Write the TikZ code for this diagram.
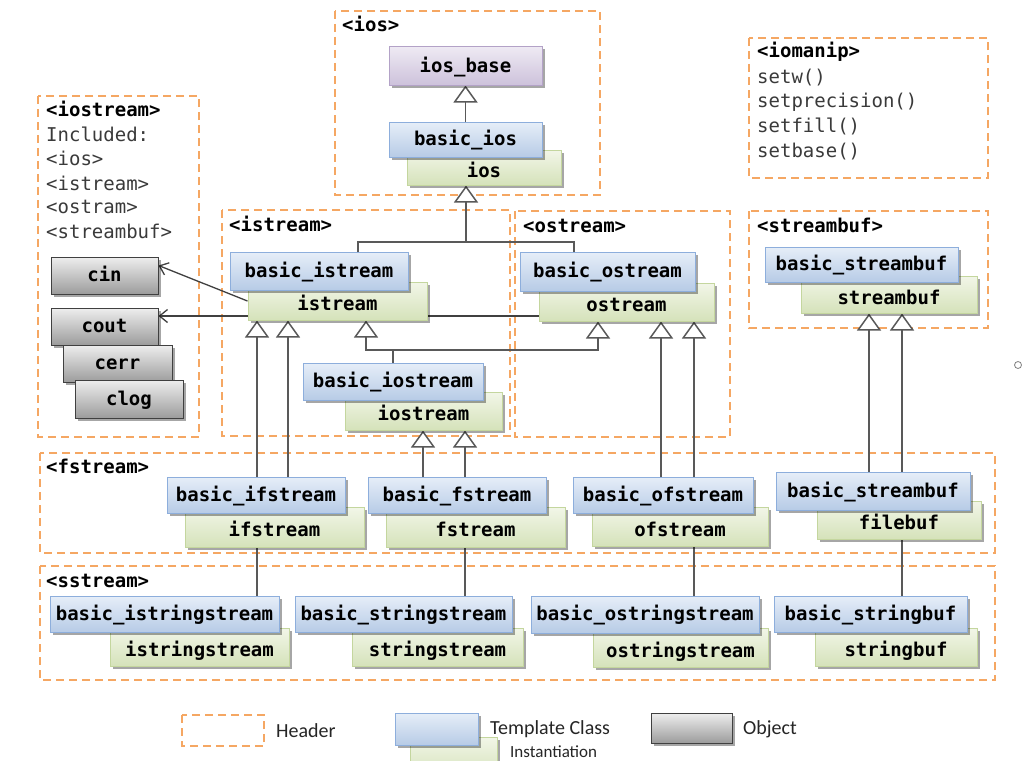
\documentclass[tikz,border=0pt]{standalone}
\usepackage{fontspec}
\setmainfont{Carlito}
\newfontfamily\codefont{DejaVu Sans Mono}
\usetikzlibrary{arrows.meta,shadows}
\pgfdeclarelayer{headers}
\pgfdeclarelayer{wires}
\pgfsetlayers{headers,wires,main}

\definecolor{hdr}{HTML}{F5A763}
\definecolor{itemgray}{HTML}{3A3A3A}
\definecolor{wire}{HTML}{595959}
\definecolor{tmplline}{HTML}{8DAEDC}
\definecolor{tmpltop}{HTML}{E6EEF8}
\definecolor{tmplbot}{HTML}{B7CBE6}
\definecolor{instline}{HTML}{C4D69E}
\definecolor{insttop}{HTML}{F2F6E8}
\definecolor{instbot}{HTML}{D5E2BA}
\definecolor{purpline}{HTML}{B3A2C7}
\definecolor{purptop}{HTML}{EEE9F3}
\definecolor{purpbot}{HTML}{CDC2DB}
\definecolor{objline}{HTML}{404040}
\definecolor{objtop}{HTML}{EEEEEE}
\definecolor{objbot}{HTML}{9C9C9C}

\tikzset{
  hdrbox/.style={draw=hdr, line width=2.2pt, dash pattern=on 8pt off 5pt},
  codetext/.style={font=\codefont\bfseries\fontsize{19}{22}\selectfont},
  hdrtitle/.style={codetext, anchor=west, inner sep=0pt, text height=11pt, text depth=1pt},
  hdritem/.style={font=\codefont\fontsize{19}{22}\selectfont, text=itemgray,
    anchor=west, inner sep=0pt, text height=11pt, text depth=1pt},
  cls/.style={codetext, inner sep=0pt, line width=1pt, text height=13pt, text depth=1pt,
    drop shadow={shadow xshift=2.5pt, shadow yshift=-2.5pt, opacity=0.35, fill=black}},
  tmpl/.style={cls, draw=tmplline, top color=tmpltop, bottom color=tmplbot},
  inst/.style={cls, draw=instline, top color=insttop, bottom color=instbot, text height=20pt},
  rootcls/.style={cls, draw=purpline, top color=purptop, bottom color=purpbot},
  obj/.style={cls, draw=objline, top color=objtop, bottom color=objbot},
  sz/.style 2 args={minimum width=#1pt, minimum height=#2pt},
  conn/.style={draw=wire, line width=1.5pt},
  inh/.style={conn, -{Triangle[length=17pt, width=24pt, fill=white]}},
  ptr/.style={draw=objline, line width=1.3pt, -{Straight Barb[length=8pt, width=13pt]}},
  legendtext/.style={anchor=west, inner sep=0pt, font=\fontsize{20}{24}\selectfont, text=black!85},
}

\begin{document}
\begin{tikzpicture}[x=1pt, y=-1pt]
\useasboundingbox (0,0) rectangle (1022,760);
\clip (0,0) rectangle (1022,760);

% header frames
\begin{pgfonlayer}{headers}
  \fill[white] (0,0) rectangle (1022,760);
  \draw[hdrbox] (335,11) rectangle (600,195);
  \draw[hdrbox] (749,38) rectangle (988,178);
  \draw[hdrbox] (38,96) rectangle (199,437);
  \draw[hdrbox] (222,210) rectangle (510,436);
  \draw[hdrbox] (515,211) rectangle (730,437);
  \draw[hdrbox] (749,211) rectangle (988,328);
  \draw[hdrbox] (40,453) rectangle (995,553);
  \draw[hdrbox] (40,566) rectangle (995,680);
  \draw[hdrbox] (182,715) rectangle (264,746);
\end{pgfonlayer}

% header titles and contents
\node[hdrtitle] (hIos) at (342,27) {<ios>};
\node[hdrtitle] (hIomanip) at (757,53) {<iomanip>};
\node[hdritem] (m1) at (757,78) {setw()};
\node[hdritem] (m2) at (757,102) {setprecision()};
\node[hdritem] (m3) at (757,127) {setfill()};
\node[hdritem] (m4) at (757,152) {setbase()};
\node[hdrtitle] (hIostream) at (46,111) {<iostream>};
\node[hdritem] (i1) at (46,136) {Included:};
\node[hdritem] (i2) at (46,160) {<ios>};
\node[hdritem] (i3) at (46,185) {<istream>};
\node[hdritem] (i4) at (46,208) {<ostram>};
\node[hdritem] (i5) at (46,233) {<streambuf>};
\node[hdrtitle] (hIstream) at (229,226) {<istream>};
\node[hdrtitle] (hOstream) at (523,227) {<ostream>};
\node[hdrtitle] (hStreambuf) at (757,227) {<streambuf>};
\node[hdrtitle] (hFstream) at (46,468) {<fstream>};
\node[hdrtitle] (hSstream) at (46,582) {<sstream>};

% <ios>
\node[rootcls, sz={153}{38}] (iosbase) at (465.5,66) {ios\_base};
\node[inst, sz={154}{35}] (ios) at (484,167.5) {ios};
\node[tmpl, sz={153}{35}] (bios) at (465.5,139.5) {basic\_ios};

% <istream>, <ostream>
\node[inst, sz={179}{38}] (istream) at (337.5,301) {istream};
\node[tmpl, sz={178}{38}] (bistream) at (319,271) {basic\_istream};
\node[inst, sz={175}{38}] (ostream) at (626.5,302) {ostream};
\node[tmpl, sz={175}{39}] (bostream) at (607.5,271.5) {basic\_ostream};
\node[inst, sz={157}{38}] (iostream) at (423.5,411) {iostream};
\node[tmpl, sz={180}{37}] (biostream) at (393,381.5) {basic\_iostream};

% <streambuf>
\node[inst, sz={176}{37}] (streambuf) at (889,294.5) {streambuf};
\node[tmpl, sz={193}{35}] (bstreambuf) at (861.5,264.5) {basic\_streambuf};

% standard stream objects
\node[obj, sz={107}{37}] (cin) at (104.5,275.5) {cin};
\node[obj, sz={107}{37}] (cout) at (104.5,326.5) {cout};
\node[obj, sz={109}{37}] (cerr) at (117.5,363.5) {cerr};
\node[obj, sz={108}{38}] (clog) at (129,399) {clog};

% <fstream>
\node[inst, sz={179}{40}] (ifstream) at (274.5,527) {ifstream};
\node[tmpl, sz={178}{36}] (bifstream) at (256,495) {basic\_ifstream};
\node[inst, sz={179}{40}] (fstream) at (475.5,527) {fstream};
\node[tmpl, sz={178}{36}] (bfstream) at (457,495) {basic\_fstream};
\node[inst, sz={176}{39}] (ofstream) at (680,526.5) {ofstream};
\node[tmpl, sz={180}{36}] (bofstream) at (663,495) {basic\_ofstream};
\node[inst, sz={164}{38}] (filebuf) at (899,520) {filebuf};
\node[tmpl, sz={194}{38}] (bfilebuf) at (873,491) {basic\_streambuf};

% <sstream>
\node[inst, sz={179}{38}] (isstream) at (199.5,647) {istringstream};
\node[tmpl, sz={229}{36}] (bisstream) at (164.5,614) {basic\_istringstream};
\node[inst, sz={171}{38}] (sstream) at (437.5,647) {stringstream};
\node[tmpl, sz={217}{36}] (bsstream) at (403.5,614) {basic\_stringstream};
\node[inst, sz={175}{39}] (osstream) at (680.5,647.5) {ostringstream};
\node[tmpl, sz={228}{37}] (bosstream) at (645,614.5) {basic\_ostringstream};
\node[inst, sz={162}{38}] (stringbuf) at (896,647) {stringbuf};
\node[tmpl, sz={193}{36}] (bstringbuf) at (870.5,614) {basic\_stringbuf};

% legend
\node[legendtext] (lgHeader) at (276,731) {Header};
\node[inst, sz={87}{40}] (lgInst) at (453.5,757) {};
\node[tmpl, sz={83}{32}] (lgTmpl) at (436.5,729) {};
\node[legendtext] (lgTmplText) at (490,729) {Template Class};
\node[obj, sz={81}{30}] (lgObj) at (691.5,728) {};
\node[legendtext] (lgObjText) at (743,729) {Object};
\node[legendtext, anchor=base west, font=\fontsize{17}{20}\selectfont] (lgInstText) at (510,757) {Instantiation};

% connectors
\begin{pgfonlayer}{wires}
  \draw[inh] (bios.north) -- (iosbase.south);

  \coordinate (jA) at (466,242);
  \coordinate (jB) at (358,242);
  \coordinate (jC) at (574,242);
  \draw[conn] (jB |- bistream.north) -- (jB) -- (jC) -- (jC |- bostream.north);
  \draw[inh] (jA) -- (jA |- ios.south);

  \draw[ptr] (istream.west) -- ([yshift=10pt]cin.east);
  \coordinate (coutT) at ([yshift=10.5pt]cout.east);
  \draw[ptr] (coutT -| ostream.west) -- (coutT);

  \coordinate (xI1) at (257,0);
  \coordinate (xI2) at (288,0);
  \draw[inh] (xI1 |- bisstream.north) -- (xI1 |- istream.south);
  \draw[inh] (xI2 |- bifstream.north) -- (xI2 |- istream.south);

  \coordinate (jI) at (366,350);
  \coordinate (jO) at (598,350);
  \draw[inh] (biostream.north) |- (jI) -- (jI |- istream.south);
  \draw[inh] (biostream.north) |- (jO) -- (jO |- ostream.south);

  \coordinate (xO1) at (661,0);
  \coordinate (xO2) at (694,0);
  \draw[inh] (xO1 |- bofstream.north) -- (xO1 |- ostream.south);
  \draw[inh] (xO2 |- bosstream.north) -- (xO2 |- ostream.south);

  \coordinate (xS1) at (423,0);
  \coordinate (xS2) at (465,0);
  \draw[inh] (xS1 |- bfstream.north) -- (xS1 |- iostream.south);
  \draw[inh] (xS2 |- bsstream.north) -- (xS2 |- iostream.south);

  \coordinate (xB1) at (869,0);
  \coordinate (xB2) at (902,0);
  \draw[inh] (xB1 |- bfilebuf.north) -- (xB1 |- streambuf.south);
  \draw[inh] (xB2 |- bstringbuf.north) -- (xB2 |- streambuf.south);
\end{pgfonlayer}

% window edge detail
\draw[gray, line width=0.8pt] (1018,365) circle[radius=3.5pt];
\end{tikzpicture}
\end{document}
